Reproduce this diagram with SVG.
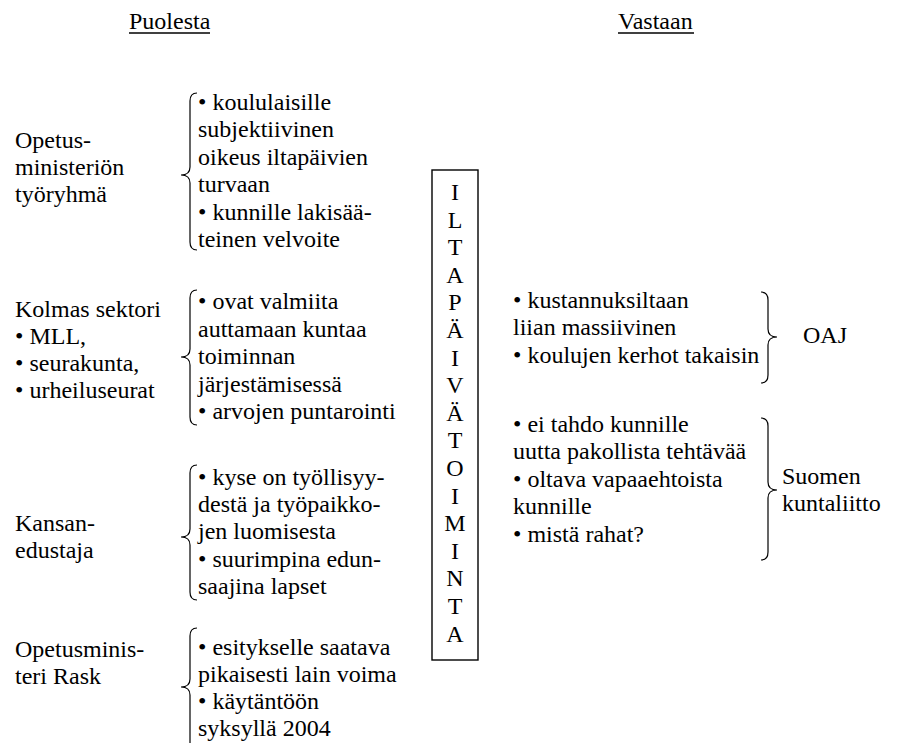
<svg xmlns="http://www.w3.org/2000/svg" width="914" height="743" viewBox="0 0 914 743">
<style>
text{font-family:"Liberation Serif","Times New Roman",serif;font-size:24px;fill:#000}
.br{fill:none;stroke:#000;stroke-width:1.2}
.bx{fill:none;stroke:#000;stroke-width:1.4}
.mid{text-anchor:middle}
</style>
<rect width="914" height="743" fill="#fff"/>
<g id="headers">
<text x="129" y="29">Puolesta</text>
<line x1="129" y1="33" x2="210" y2="33" stroke="#000" stroke-width="1.5"/>
<text x="618" y="29">Vastaan</text>
<line x1="618" y1="33" x2="694" y2="33" stroke="#000" stroke-width="1.5"/>
</g>
<g id="node-opetusministerion-tyoryhma">
<text x="15" y="148">Opetus-</text>
<text x="15" y="175">ministeriön</text>
<text x="15" y="202">työryhmä</text>
</g>
<g id="node-kolmas-sektori">
<text x="15" y="317">Kolmas sektori</text>
<text x="15" y="344">• MLL,</text>
<text x="15" y="371">• seurakunta,</text>
<text x="15" y="398">• urheiluseurat</text>
</g>
<g id="node-kansanedustaja">
<text x="15" y="531">Kansan-</text>
<text x="15" y="558">edustaja</text>
</g>
<g id="node-opetusministeri-rask">
<text x="15" y="657">Opetusminis-</text>
<text x="15" y="684">teri Rask</text>
</g>
<g id="node-puolesta-1">
<text x="198" y="110">• koululaisille</text>
<text x="198" y="137">subjektiivinen</text>
<text x="198" y="165">oikeus iltapäivien</text>
<text x="198" y="192">turvaan</text>
<text x="198" y="220">• kunnille lakisää-</text>
<text x="198" y="247">teinen velvoite</text>
</g>
<g id="node-puolesta-2">
<text x="198" y="309">• ovat valmiita</text>
<text x="198" y="337">auttamaan kuntaa</text>
<text x="198" y="364">toiminnan</text>
<text x="198" y="392">järjestämisessä</text>
<text x="198" y="419">• arvojen puntarointi</text>
</g>
<g id="node-puolesta-3">
<text x="198" y="485">• kyse on työllisyy-</text>
<text x="198" y="512">destä ja työpaikko-</text>
<text x="198" y="539">jen luomisesta</text>
<text x="198" y="567">• suurimpina edun-</text>
<text x="198" y="594">saajina lapset</text>
</g>
<g id="node-puolesta-4">
<text x="198" y="655">• esitykselle saatava</text>
<text x="198" y="682">pikaisesti lain voima</text>
<text x="198" y="709">• käytäntöön</text>
<text x="198" y="736">syksyllä 2004</text>
</g>
<g id="node-iltapaivatoiminta">
<rect class="bx" x="432" y="170" width="46" height="490"/>
<text class="mid" x="455" y="200">I</text>
<text class="mid" x="455" y="227.6">L</text>
<text class="mid" x="455" y="255.2">T</text>
<text class="mid" x="455" y="282.8">A</text>
<text class="mid" x="455" y="310.4">P</text>
<text class="mid" x="455" y="338">Ä</text>
<text class="mid" x="455" y="365.6">I</text>
<text class="mid" x="455" y="393.2">V</text>
<text class="mid" x="455" y="420.8">Ä</text>
<text class="mid" x="455" y="448.4">T</text>
<text class="mid" x="455" y="476">O</text>
<text class="mid" x="455" y="503.6">I</text>
<text class="mid" x="455" y="531.2">M</text>
<text class="mid" x="455" y="558.8">I</text>
<text class="mid" x="455" y="586.4">N</text>
<text class="mid" x="455" y="614">T</text>
<text class="mid" x="455" y="641.6">A</text>
</g>
<g id="node-vastaan-1">
<text x="513" y="308">• kustannuksiltaan</text>
<text x="513" y="335">liian massiivinen</text>
<text x="513" y="363">• koulujen kerhot takaisin</text>
</g>
<g id="node-oaj">
<text x="803" y="343">OAJ</text>
</g>
<g id="node-vastaan-2">
<text x="513" y="432">• ei tahdo kunnille</text>
<text x="513" y="459">uutta pakollista tehtävää</text>
<text x="513" y="487">• oltava vapaaehtoista</text>
<text x="513" y="514">kunnille</text>
<text x="513" y="542">• mistä rahat?</text>
</g>
<g id="node-suomen-kuntaliitto">
<text x="782" y="484">Suomen</text>
<text x="782" y="511">kuntaliitto</text>
</g>
<g id="connectors">
<path class="br" d="M197,93 Q190,93 190,101 L190,167 Q190,175 181,175 Q190,175 190,183 L190,242 Q190,250 197,250"/>
<path class="br" d="M197,290 Q190,290 190,298 L190,349 Q190,357 181,357 Q190,357 190,365 L190,417 Q190,425 197,425"/>
<path class="br" d="M197,465 Q190,465 190,473 L190,529 Q190,537 181,537 Q190,537 190,545 L190,592 Q190,600 197,600"/>
<path class="br" d="M197,628 Q190,628 190,636 L190,679 Q190,687 181,687 Q190,687 190,695 L190,745"/>
<path class="br" d="M761,292 Q768,292 768,300 L768,329 Q768,337 777,337 Q768,337 768,345 L768,375 Q768,383 761,383"/>
<path class="br" d="M761,418 Q768,418 768,426 L768,482 Q768,490 777,490 Q768,490 768,498 L768,552 Q768,560 761,560"/>
</g>
</svg>
